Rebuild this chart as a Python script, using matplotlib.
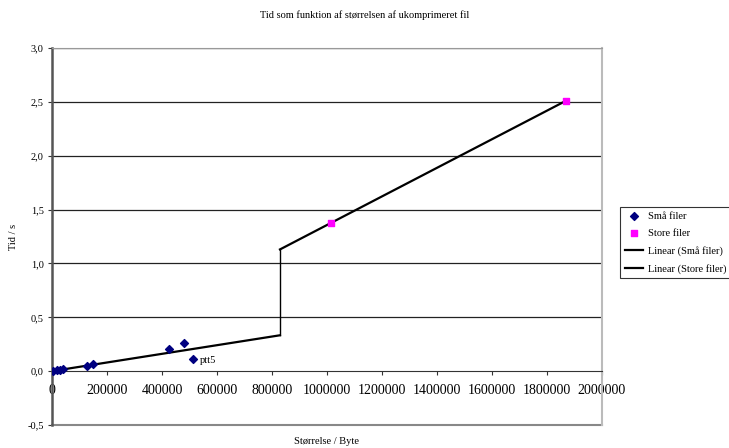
import numpy as np
import matplotlib.pyplot as plt

plt.rcParams['font.family'] = ['Liberation Serif', 'DejaVu Serif']

# Små filer (bytes, seconds)
small_x = [3500, 18000, 29000, 40000, 126000, 148000, 427000, 480000, 511000]
small_y = [0.0, 0.01, 0.015, 0.02, 0.05, 0.065, 0.21, 0.26, 0.11]

# Store filer
large_x = [1013000, 1869000]
large_y = [1.375, 2.51]

# trendlines
trend_small_x = [0, 829000]
trend_small_y = [0.0, 0.333]
trend_large_x = [829000, 1869000]
trend_large_y = [1.13, 2.51]

xticks = [0, 200000, 400000, 600000, 800000, 1000000, 1200000, 1400000, 1600000, 1800000, 2000000]
yticks = [-0.5, 0.0, 0.5, 1.0, 1.5, 2.0, 2.5, 3.0]

fig = plt.figure(figsize=(7.29, 4.48), dpi=100)
ax = fig.add_axes([52 / 729, 23 / 448, 550 / 729, 377 / 448])

for y in yticks[2:]:
    ax.axhline(y, color='#222222', lw=0.9, zorder=1)

l1, = ax.plot(trend_small_x, trend_small_y, color='black', lw=1.6, zorder=2)
l2, = ax.plot(trend_large_x, trend_large_y, color='black', lw=1.6, zorder=2)
ax.plot([trend_small_x[1], trend_large_x[0]], [trend_small_y[1], trend_large_y[0]],
        color='black', lw=1.0, zorder=2)

p1 = ax.scatter(small_x, small_y, marker='D', s=16, color='#000080', zorder=3)
p2 = ax.scatter(large_x, large_y, marker='s', s=20, color='#FF00FF', zorder=3)
ax.annotate('ptt5', (small_x[-1], small_y[-1]), xytext=(5, -3), textcoords='offset points',
            fontsize=7.5)

ax.set_xlim(0, 2000000)
ax.set_ylim(-0.5, 3.0)
ax.set_xticks(xticks)
ax.set_xticklabels([str(v) for v in xticks], fontsize=7.5)
ax.set_yticks(yticks)
ax.set_yticklabels([('%.1f' % v).replace('.', ',') for v in yticks], fontsize=7.5)

ax.spines['bottom'].set_position(('data', 0))
ax.spines['bottom'].set_color('#333333')
ax.spines['left'].set_color('#555555')
ax.spines['left'].set_linewidth(1.8)
ax.spines['top'].set_color('#999999')
ax.spines['right'].set_color('#bbbbbb')
ax.spines['right'].set_linewidth(1.5)
ax.axhline(-0.5, color='#888888', lw=1.5, clip_on=False)
ax.tick_params(axis='x', direction='out', length=3, pad=6, color='#333333')
ax.tick_params(axis='y', direction='out', length=3, pad=3, color='#333333')

fig.text(365 / 729, 1 - 15 / 448, 'Tid som funktion af størrelsen af ukomprimeret fil',
         fontsize=7.5, ha='center', va='center')
fig.text(327 / 729, 1 - 441 / 448, 'Størrelse / Byte', fontsize=7.5, ha='center', va='center')
fig.text(14 / 729, 1 - 237 / 448, 'Tid / s', fontsize=7.5, ha='center', va='center', rotation=90)

leg = fig.legend([p1, p2, l1, l2], ['Små filer', 'Store filer', 'Linear (Små filer)', 'Linear (Store filer)'],
                 loc='upper left', bbox_to_anchor=(620 / 729, 1 - 207 / 448), fontsize=7.5,
                 frameon=True, fancybox=False, borderpad=0.45, labelspacing=0.75,
                 handlelength=1.8, handletextpad=0.4, borderaxespad=0)
leg.get_frame().set_edgecolor('black')
leg.get_frame().set_linewidth(0.8)

fig.savefig('out.png', dpi=100)
